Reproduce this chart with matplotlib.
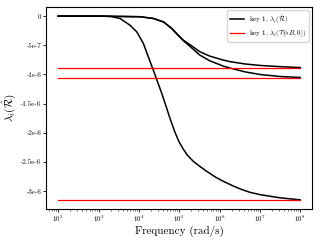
import matplotlib
matplotlib.use("Agg")
import matplotlib.pyplot as plt

plt.rcParams['font.family'] = 'serif'
plt.rcParams['font.serif'] = ['cmr10', 'DejaVu Serif']
plt.rcParams['mathtext.fontset'] = 'cm'
plt.rcParams['axes.unicode_minus'] = False

# --- eigenvalue curves (rad/s, value) ---
freq_low = [1e2, 1e3, 2.0e3, 3.4e3, 6.0e3, 8.9e3, 1.29e4, 1.72e4, 2.21e4, 2.75e4,
            3.72e4, 4.9e4, 6.03e4, 7.94e4, 1e5, 1.26e5, 1.58e5, 2.24e5, 3.16e5,
            4.79e5, 7.94e5, 1.23e6, 2.0e6, 3.16e6, 5.62e6, 1e7, 3.16e7, 1e8]
lam_low = [0, 0, -0.005e-6, -0.04e-6, -0.154e-6, -0.27e-6, -0.467e-6, -0.70e-6,
           -0.90e-6, -1.08e-6, -1.33e-6, -1.58e-6, -1.77e-6, -2.00e-6, -2.16e-6,
           -2.28e-6, -2.38e-6, -2.49e-6, -2.57e-6, -2.66e-6, -2.76e-6, -2.83e-6,
           -2.90e-6, -2.96e-6, -3.02e-6, -3.06e-6, -3.115e-6, -3.15e-6]

freq_mid = [1e2, 1e3, 1.07e4, 2.3e4, 4.1e4, 6.5e4, 9.5e4, 1.26e5, 1.86e5, 3.25e5,
            5.7e5, 1.23e6, 1.82e6, 4.26e6, 1e7, 3.16e7, 1e8]
lam_a = [0, 0, -0.01e-6, -0.04e-6, -0.10e-6, -0.21e-6, -0.33e-6, -0.41e-6,
         -0.49e-6, -0.61e-6, -0.685e-6, -0.753e-6, -0.78e-6, -0.82e-6, -0.845e-6,
         -0.866e-6, -0.882e-6]
lam_b = [0, 0, -0.01e-6, -0.04e-6, -0.10e-6, -0.21e-6, -0.33e-6, -0.42e-6,
         -0.52e-6, -0.668e-6, -0.765e-6, -0.856e-6, -0.89e-6, -0.955e-6, -1.0e-6,
         -1.035e-6, -1.052e-6]

# --- limits T[aB,0] ---
freq_lim = [1e2, 1e8]
lam_lim = [-0.885e-6, -1.056e-6, -3.15e-6]

ytick_vals = [0, -5e-7, -1e-6, -1.5e-6, -2e-6, -2.5e-6, -3e-6]
ytick_labels = ['0', '-5e-7', '-1e-6', '-1.5e-6', '-2e-6', '-2.5e-6', '-3e-6']

fig = plt.figure(figsize=(3.2, 2.4), dpi=100)
ax = fig.add_axes([0.144, 0.129, 0.832, 0.842])

ax.plot(freq_low, lam_low, color='black', lw=1.1, label=r'key 1, $\lambda_i(\hat{\mathcal{R}})$')
ax.plot(freq_mid, lam_a, color='black', lw=1.1)
ax.plot(freq_mid, lam_b, color='black', lw=1.1)
for i, v in enumerate(lam_lim):
    ax.plot(freq_lim, [v, v], color='red', lw=0.9,
            label=r'key 1, $\lambda_i(\mathcal{T}[\alpha B, 0])$' if i == 0 else None)

ax.set_xscale('log')
ax.set_yticks(ytick_vals)
ax.set_yticklabels(ytick_labels)
ax.tick_params(labelsize=5, width=0.6, length=2, pad=1.5)
ax.tick_params(which='minor', width=0.4, length=1.2)
for s in ax.spines.values():
    s.set_linewidth(0.8)

ax.set_xlabel('Frequency (rad/s)', fontsize=8, labelpad=1)
ax.set_ylabel(r'$\lambda_i(\hat{\mathcal{R}})$', fontsize=8, labelpad=2)
ax.legend(loc='upper right', fontsize=5, handlelength=2, borderpad=0.35,
          labelspacing=0.2, framealpha=0.8)

fig.savefig('out.png', dpi=100)
